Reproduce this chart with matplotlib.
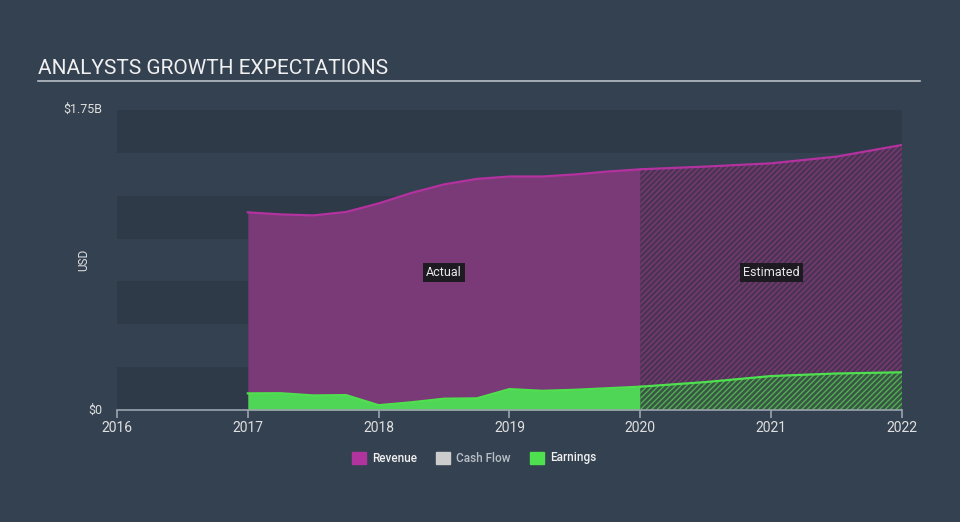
import matplotlib
matplotlib.use("Agg")
import matplotlib.pyplot as plt
import numpy as np

plt.rcParams["font.family"] = ["Roboto", "DejaVu Sans"]
plt.rcParams["hatch.linewidth"] = 1.0

# data, values in billions USD
actual_years = [2017.0, 2017.25, 2017.5, 2017.75, 2018.0, 2018.25, 2018.5, 2018.75,
                2019.0, 2019.25, 2019.5, 2019.75, 2020.0]
actual_revenue = [1.153, 1.141, 1.135, 1.155, 1.205, 1.266, 1.316, 1.348,
                  1.362, 1.362, 1.374, 1.391, 1.404]
actual_earnings = [0.097, 0.098, 0.085, 0.087, 0.028, 0.045, 0.066, 0.068,
                   0.122, 0.112, 0.118, 0.127, 0.136]

est_years = [2020.0, 2020.5, 2021.0, 2021.5, 2022.0]
est_revenue = [1.404, 1.420, 1.439, 1.478, 1.546]
est_earnings = [0.136, 0.163, 0.198, 0.213, 0.220]

year_ticks = [2016, 2017, 2018, 2019, 2020, 2021, 2022]

bg = "#344150"
band_dark = "#2e3a48"
rev_fill = "#7a3977"
rev_line = "#b3329f"
rev_est_face = "#4a3452"
earn_fill = "#50d656"
earn_line = "#4fe04f"
earn_est_face = "#3a5446"

fig = plt.figure(figsize=(9.6, 5.22), dpi=100, facecolor=bg)
ax = fig.add_axes([117 / 960, 112 / 522, 785 / 960, 300 / 522])
ax.set_facecolor(bg)

for lo in [0.0, 0.5, 1.0, 1.5]:
    ax.axhspan(lo, lo + 0.25, color=band_dark, lw=0, zorder=0)

# actual period
ax.fill_between(actual_years, actual_revenue, color=rev_fill, lw=0, zorder=1)
ax.plot(actual_years, actual_revenue, color=rev_line, lw=1.6, zorder=3)
ax.fill_between(actual_years, actual_earnings, color=earn_fill, lw=0, zorder=2)
ax.plot(actual_years, actual_earnings, color=earn_line, lw=1.6, zorder=3)

# estimated period, hatched
ax.fill_between(est_years, est_revenue, facecolor=rev_est_face, edgecolor=rev_fill,
                hatch="//////", lw=0, zorder=1)
ax.plot(est_years, est_revenue, color=rev_line, lw=1.6, zorder=3)
ax.fill_between(est_years, est_earnings, facecolor=earn_est_face, edgecolor="#4fb050",
                hatch="//////", lw=0, zorder=2)
ax.plot(est_years, est_earnings, color=earn_line, lw=1.6, zorder=3)

ax.set_xlim(2016, 2022)
ax.set_ylim(0, 1.75)

for s in ["top", "right", "left"]:
    ax.spines[s].set_visible(False)
ax.spines["bottom"].set_color("#9aa4ae")
ax.spines["bottom"].set_linewidth(1.2)
ax.set_xticks(year_ticks)
ax.set_xticklabels([str(y) for y in year_ticks])
ax.tick_params(axis="x", colors="#9aa4ae", labelcolor="#e0e0e0", labelsize=10,
               length=6, width=1.2, pad=2)
ax.set_yticks([])

ax.text(2018.5, 0.80, "Actual", color="#e8e8e8", fontsize=9, ha="center", va="center",
        bbox=dict(boxstyle="square,pad=0.25", fc="#1e1a22", ec="none"), zorder=5)
ax.text(2021.0, 0.80, "Estimated", color="#e8e8e8", fontsize=9, ha="center", va="center",
        bbox=dict(boxstyle="square,pad=0.25", fc="#1e1a22", ec="none"), zorder=5)

# title and y labels
fig.text(38 / 960, 1 - 68 / 522, "ANALYSTS GROWTH EXPECTATIONS", color="#f0f0f0",
         fontsize=15, va="center", ha="left")
fig.add_artist(plt.Line2D([38 / 960, 920 / 960], [1 - 81 / 522, 1 - 81 / 522],
                          color="#b8bec6", lw=1.2))
fig.text(102 / 960, 1 - 109 / 522, "$1.75B", color="#e0e0e0", fontsize=9,
         ha="right", va="center")
fig.text(102 / 960, 1 - 410 / 522, "$0", color="#e0e0e0", fontsize=9,
         ha="right", va="center")
fig.text(84 / 960, 1 - 260 / 522, "USD", color="#e0e0e0", fontsize=8.5,
         ha="center", va="center", rotation=90)

# legend
legend_items = [("Revenue", "#b0339e", "#f0f0f0"),
                ("Cash Flow", "#cccccc", "#b8bec6"),
                ("Earnings", "#4fe04f", "#f0f0f0")]
legend_x = [352, 436, 530]
for (name, col, tcol), lx in zip(legend_items, legend_x):
    fig.patches.append(plt.Rectangle((lx / 960, 1 - 464 / 522), 14 / 960, 12 / 522,
                                     transform=fig.transFigure, color=col))
    fig.text((lx + 20) / 960, 1 - 458 / 522, name, color=tcol, fontsize=8.5,
             ha="left", va="center", fontweight="medium")

fig.savefig("out.png", dpi=100, facecolor=bg)
